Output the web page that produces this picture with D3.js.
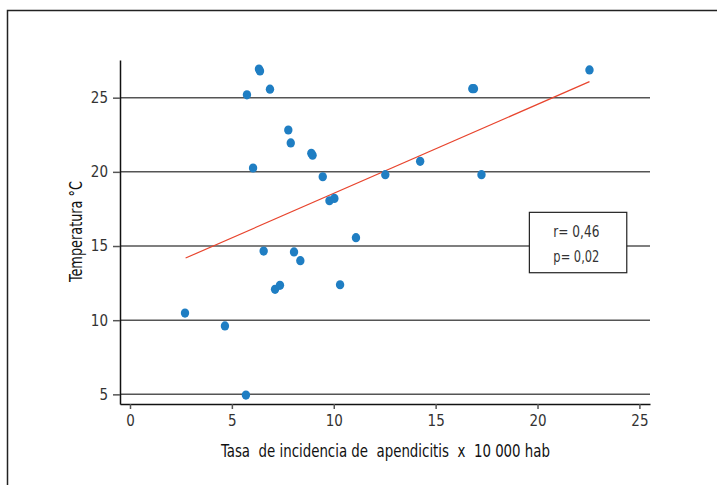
<!DOCTYPE html>
<html>
<head>
<meta charset="utf-8">
<script src="https://cdn.jsdelivr.net/npm/d3@7"></script>
<style>
  html, body { margin: 0; padding: 0; background: #fff; }
  svg { display: block; }
  text { font-family: "Liberation Sans Narrow", "DejaVu Sans Condensed", "Roboto", sans-serif; }
</style>
</head>
<body>
<svg id="chart" width="717" height="485"></svg>
<script>
// Data
const incidence = [2.70, 4.66, 5.69, 5.74, 6.04, 6.33, 6.38, 6.87, 6.56, 7.12, 7.36, 7.77, 7.89, 8.05, 8.36, 8.90, 8.96, 9.46, 9.79, 10.03, 10.31, 11.09, 12.53, 14.24, 16.80, 16.88, 17.25, 22.55];
const temperature = [10.48, 9.61, 4.95, 25.19, 20.26, 26.93, 26.80, 25.57, 14.66, 12.08, 12.35, 22.82, 21.95, 14.60, 14.01, 21.25, 21.12, 19.67, 18.05, 18.21, 12.39, 15.56, 19.81, 20.71, 25.61, 25.61, 19.81, 26.87];
const fitX = [2.73, 22.55];
const fitY = [14.19, 26.08];
const xTicks = [0, 5, 10, 15, 20, 25];
const yTicks = [5, 10, 15, 20, 25];
const statsLines = ["r= 0,46", "p= 0,02"];
const xLabel = "Tasa  de incidencia de  apendicitis  x  10 000 hab";
const yLabel = "Temperatura °C";

const svg = d3.select("#chart");

// outer frame (only left and top edges are visible)
svg.append("rect")
  .attr("x", 7.5).attr("y", 10.5)
  .attr("width", 800).attr("height", 600)
  .attr("fill", "none").attr("stroke", "#222").attr("stroke-width", 1.5);

const mLeft = 120, mRight = 650, mTop = 60, mBottom = 404;
const x = d3.scaleLinear().domain([-0.49, 25.52]).range([mLeft, mRight]);
const y = d3.scaleLinear().domain([4.35, 27.54]).range([mBottom, mTop]);

// horizontal gridlines
const grid = svg.append("g");
grid.selectAll("line").data(yTicks).join("line")
  .attr("x1", mLeft).attr("x2", mRight)
  .attr("y1", d => y(d)).attr("y2", d => y(d))
  .attr("stroke", "#555").attr("stroke-width", 1.5);

// y axis
const yAxis = svg.append("g")
  .attr("transform", `translate(${mLeft},0)`)
  .call(d3.axisLeft(y).tickValues(yTicks).tickSize(7).tickPadding(5).tickSizeOuter(0));
yAxis.select(".domain").attr("stroke", "#111").attr("stroke-width", 1.5);
yAxis.selectAll(".tick line").attr("stroke", "#555").attr("stroke-width", 1.5);
yAxis.selectAll(".tick text").attr("font-size", 15).attr("fill", "#333")
  .style("font-family", '"Liberation Sans Narrow", "DejaVu Sans Condensed", sans-serif');

// x axis
const xAxis = svg.append("g")
  .attr("transform", `translate(0,${mBottom})`)
  .call(d3.axisBottom(x).tickValues(xTicks).tickSize(5).tickPadding(6).tickSizeOuter(0));
xAxis.select(".domain").attr("stroke", "#111").attr("stroke-width", 1.5);
xAxis.selectAll(".tick line").attr("stroke", "#555").attr("stroke-width", 1.5);
xAxis.selectAll(".tick text").attr("font-size", 15).attr("fill", "#333")
  .style("font-family", '"Liberation Sans Narrow", "DejaVu Sans Condensed", sans-serif');

// regression line
svg.append("line")
  .attr("x1", x(fitX[0])).attr("y1", y(fitY[0]))
  .attr("x2", x(fitX[1])).attr("y2", y(fitY[1]))
  .attr("stroke", "#e8452e").attr("stroke-width", 1.2);

// points
const pts = incidence.map((v, i) => ({ x: v, y: temperature[i] }));
svg.append("g").selectAll("ellipse").data(pts).join("ellipse")
  .attr("cx", d => x(d.x)).attr("cy", d => y(d.y))
  .attr("rx", 4.2).attr("ry", 4.6)
  .attr("fill", "#1f7ec3");

// stats box
const bx0 = x(19.6), bx1 = x(24.38), by0 = y(17.27), by1 = y(13.2);
svg.append("rect")
  .attr("x", bx0).attr("y", by0)
  .attr("width", bx1 - bx0).attr("height", by1 - by0)
  .attr("fill", "#fff").attr("stroke", "#222").attr("stroke-width", 1.2);
svg.append("g").selectAll("text").data(statsLines).join("text")
  .attr("x", bx0 + 24)
  .attr("y", (d, i) => by0 + 24.5 + i * 25.5)
  .attr("font-size", 16.5).attr("fill", "#333")
  .attr("textLength", 46).attr("lengthAdjust", "spacingAndGlyphs")
  .text(d => d);

// axis titles
svg.append("text")
  .attr("x", 385.5)
  .attr("y", 457)
  .attr("text-anchor", "middle")
  .attr("font-size", 17.5).attr("fill", "#111")
  .attr("textLength", 329).attr("lengthAdjust", "spacingAndGlyphs")
  .style("white-space", "pre")
  .text(xLabel);

svg.append("text")
  .attr("transform", `translate(82,231.5) rotate(-90)`)
  .attr("text-anchor", "middle")
  .attr("font-size", 17.5).attr("fill", "#111")
  .attr("textLength", 101).attr("lengthAdjust", "spacingAndGlyphs")
  .text(yLabel);
</script>
</body>
</html>
